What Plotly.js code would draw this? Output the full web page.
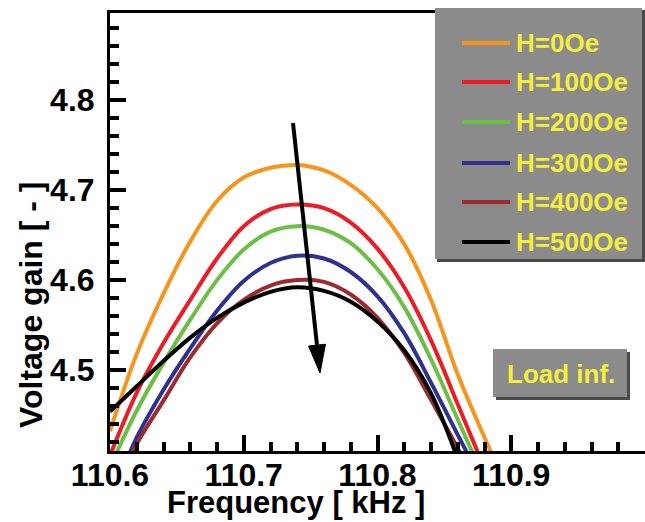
<!DOCTYPE html>
<html>
<head>
<meta charset="utf-8">
<script src="https://cdn.plot.ly/plotly-3.0.1.min.js"></script>
<style>html,body{margin:0;padding:0;background:#fff;}#chart{width:645px;height:522px;}</style>
</head>
<body>
<div id="chart"></div>
<script>
// ---- data ----
var seriesNames = ["H=0Oe", "H=100Oe", "H=200Oe", "H=300Oe", "H=400Oe", "H=500Oe"];
var seriesColors = ["#f7941d", "#ed1c24", "#6cbf45", "#2e3192", "#9b2b2e", "#000000"];

var freqH0 = [110.600, 110.620, 110.640, 110.660, 110.680, 110.700, 110.720, 110.740, 110.760, 110.780, 110.800, 110.820, 110.840, 110.860, 110.880, 110.886];
var gainH0 = [4.432, 4.518, 4.585, 4.643, 4.688, 4.714, 4.725, 4.728, 4.722, 4.706, 4.680, 4.640, 4.578, 4.495, 4.425, 4.405];
var freqH100 = [110.600, 110.620, 110.640, 110.660, 110.680, 110.700, 110.720, 110.740, 110.760, 110.780, 110.800, 110.820, 110.840, 110.860, 110.876];
var gainH100 = [4.405, 4.475, 4.530, 4.578, 4.624, 4.660, 4.679, 4.684, 4.680, 4.664, 4.635, 4.592, 4.533, 4.462, 4.405];
var freqH200 = [110.604, 110.620, 110.640, 110.660, 110.680, 110.700, 110.720, 110.740, 110.760, 110.780, 110.800, 110.820, 110.840, 110.860, 110.872];
var gainH200 = [4.405, 4.455, 4.508, 4.556, 4.600, 4.634, 4.654, 4.660, 4.656, 4.641, 4.612, 4.570, 4.512, 4.445, 4.405];
var freqH300 = [110.614, 110.620, 110.640, 110.660, 110.680, 110.700, 110.720, 110.740, 110.760, 110.780, 110.800, 110.820, 110.840, 110.860, 110.868];
var gainH300 = [4.405, 4.425, 4.478, 4.524, 4.566, 4.599, 4.619, 4.627, 4.624, 4.609, 4.582, 4.541, 4.486, 4.428, 4.405];
var freqH400 = [110.616, 110.620, 110.640, 110.660, 110.680, 110.700, 110.720, 110.740, 110.760, 110.780, 110.800, 110.820, 110.840, 110.863];
var gainH400 = [4.405, 4.418, 4.466, 4.514, 4.552, 4.578, 4.594, 4.600, 4.598, 4.584, 4.558, 4.519, 4.467, 4.405];
var freqH500 = [110.600, 110.620, 110.640, 110.660, 110.680, 110.700, 110.720, 110.740, 110.760, 110.780, 110.800, 110.820, 110.840, 110.859];
var gainH500 = [4.454, 4.482, 4.510, 4.536, 4.558, 4.575, 4.587, 4.592, 4.588, 4.576, 4.554, 4.522, 4.474, 4.405];

var xTickVals = [110.6, 110.7, 110.8, 110.9];
var xTickText = ["110.6", "110.7", "110.8", "110.9"];
var yTickVals = [4.5, 4.6, 4.7, 4.8];
var yTickText = ["4.5", "4.6", "4.7", "4.8"];
var xTitle = "Frequency [ kHz ]";
var yTitle = "Voltage gain [ - ]";
var boxLabel = "Load inf.";

// ---- axis settings ----
var xRange = [110.6, 111.0], yRange = [4.41, 4.897];

// ---- geometry helpers (pixel -> paper) ----
var W = 645, H = 522;
var M = {l: 110, r: 0, t: 13, b: 71};
var PW = W - M.l - M.r, PH = H - M.t - M.b;
function PX(px) { return (px - M.l) / PW; }
function PY(py) { return (H - M.b - py) / PH; }

var allFreq = [freqH0, freqH100, freqH200, freqH300, freqH400, freqH500];
var allGain = [gainH0, gainH100, gainH200, gainH300, gainH400, gainH500];
var traces = allFreq.map(function (f, i) {
  return {type: "scatter", mode: "lines", name: seriesNames[i], x: f, y: allGain[i],
    line: {color: seriesColors[i], width: 4, shape: "spline", smoothing: 1}, showlegend: false, hoverinfo: "skip"};
});

var shapes = [], annotations = [];
var yellow = "#f4ee3c", gray = "#8b8b8b", dark = "#4a4a4a";

// legend panel
shapes.push({type: "rect", xref: "paper", yref: "paper", x0: PX(437), x1: PX(645), y0: PY(262), y1: PY(10), fillcolor: dark, line: {width: 0}, layer: "above"});
shapes.push({type: "rect", xref: "paper", yref: "paper", x0: PX(435), x1: PX(642), y0: PY(259), y1: PY(8), fillcolor: gray, line: {width: 0}, layer: "above"});
var rowY = [43, 82, 122, 163, 202, 242];
seriesNames.forEach(function (n, i) {
  shapes.push({type: "line", xref: "paper", yref: "paper", x0: PX(462), x1: PX(510), y0: PY(rowY[i]), y1: PY(rowY[i]), line: {color: seriesColors[i], width: 4}, layer: "above"});
  annotations.push({xref: "paper", yref: "paper", x: PX(514), y: PY(rowY[i]), xanchor: "left", yanchor: "middle", text: n, showarrow: false, font: {family: "Liberation Sans, Arial, sans-serif", size: 26, color: yellow, weight: "bold"}});
});
// "Load inf." box
shapes.push({type: "rect", xref: "paper", yref: "paper", x0: PX(496), x1: PX(630), y0: PY(400), y1: PY(352), fillcolor: dark, line: {width: 0}, layer: "above"});
shapes.push({type: "rect", xref: "paper", yref: "paper", x0: PX(493), x1: PX(627), y0: PY(397), y1: PY(349), fillcolor: gray, line: {width: 0}, layer: "above"});
annotations.push({xref: "paper", yref: "paper", x: PX(561), y: PY(374), xanchor: "center", yanchor: "middle", text: boxLabel, showarrow: false, font: {family: "Liberation Sans, Arial, sans-serif", size: 26, color: yellow, weight: "bold"}});

// arrow
var aTop = [293, 123], aTip = [320, 373];
var dx = aTip[0] - aTop[0], dy = aTip[1] - aTop[1], len = Math.sqrt(dx * dx + dy * dy);
var ux = dx / len, uy = dy / len, headL = 28, headW = 8.5;
var bx = aTip[0] - headL * ux, by = aTip[1] - headL * uy;
shapes.push({type: "line", xref: "paper", yref: "paper", x0: PX(aTop[0]), y0: PY(aTop[1]), x1: PX(bx + 2 * ux), y1: PY(by + 2 * uy), line: {color: "#000", width: 4}, layer: "above"});
var p1 = [bx + headW * uy, by - headW * ux], p2 = [bx - headW * uy, by + headW * ux];
shapes.push({type: "path", xref: "paper", yref: "paper", layer: "above",
  path: "M" + PX(aTip[0]) + "," + PY(aTip[1]) + " L" + PX(p1[0]) + "," + PY(p1[1]) + " L" + PX(p2[0]) + "," + PY(p2[1]) + " Z",
  fillcolor: "#000", line: {color: "#000", width: 1}});

// axis titles
annotations.push({xref: "paper", yref: "paper", x: PX(296), y: PY(503), xanchor: "center", yanchor: "middle", text: xTitle, showarrow: false, font: {family: "Liberation Sans, Arial, sans-serif", size: 31, color: "#000", weight: "bold"}});
annotations.push({xref: "paper", yref: "paper", x: PX(31), y: PY(305), xanchor: "center", yanchor: "middle", textangle: -90, text: yTitle, showarrow: false, font: {family: "Liberation Sans, Arial, sans-serif", size: 32, color: "#000", weight: "bold"}});

var tickFont = {family: "Liberation Sans, Arial, sans-serif", size: 32, color: "#000", weight: "bold"};
var layout = {
  width: W, height: H, margin: {l: M.l, r: M.r, t: M.t, b: M.b, pad: 0},
  paper_bgcolor: "#ffffff", plot_bgcolor: "#ffffff", showlegend: false,
  xaxis: {range: xRange, showgrid: false, zeroline: false,
    showline: true, linecolor: "#000", linewidth: 3, mirror: true,
    ticks: "inside", ticklen: 16, tickwidth: 4, tickcolor: "#000",
    tickmode: "array", tickvals: xTickVals, ticktext: xTickText, tickfont: tickFont, ticklabelstandoff: -6,
    minor: {dtick: 0.02, tick0: 110.6, ticks: "inside", ticklen: 9, tickwidth: 4, tickcolor: "#000", showgrid: false}},
  yaxis: {range: yRange, showgrid: false, zeroline: false,
    showline: true, linecolor: "#000", linewidth: 3, mirror: false,
    ticks: "inside", ticklen: 16, tickwidth: 4, tickcolor: "#000",
    tickmode: "array", tickvals: yTickVals, ticktext: yTickText, tickfont: tickFont, ticklabelstandoff: 6,
    minor: {dtick: 0.02, tick0: 4.4, ticks: "inside", ticklen: 9, tickwidth: 4, tickcolor: "#000", showgrid: false}},
  shapes: shapes, annotations: annotations
};

Plotly.newPlot("chart", traces, layout, {staticPlot: true, displayModeBar: false});
</script>
</body>
</html>
